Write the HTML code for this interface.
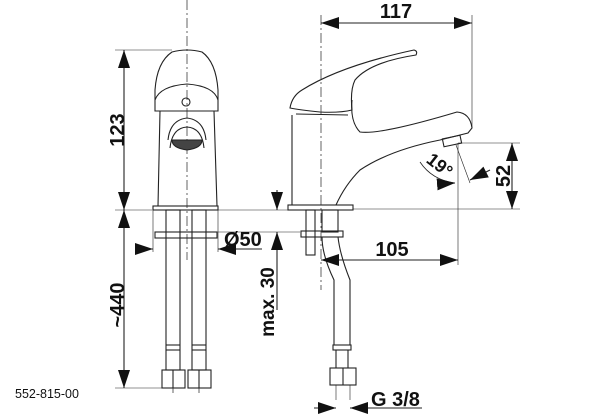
<!DOCTYPE html>
<html><head><meta charset="utf-8"><style>
html,body{margin:0;padding:0;background:#fff}
svg{display:block}
text{font-family:"Liberation Sans",Arial,sans-serif;font-weight:bold;fill:#111}
</style></head><body>
<svg width="614" height="415" viewBox="0 0 614 415" xmlns="http://www.w3.org/2000/svg">
<defs>
<marker id="a" viewBox="0 0 18 12" refX="18" refY="6" markerWidth="18" markerHeight="12" markerUnits="userSpaceOnUse" orient="auto"><path d="M0,0L18,6L0,12z" fill="#111"/></marker>
</defs>
<g fill="none" stroke="#222" stroke-width="1.1">
<!-- LEFT VIEW -->
<line x1="187" y1="0" x2="187" y2="260" stroke-dasharray="10,3,2,3" stroke-width="0.7"/>
<line x1="173" y1="380" x2="173" y2="395" stroke-dasharray="5,3" stroke-width="0.7"/>
<line x1="199" y1="380" x2="199" y2="395" stroke-dasharray="5,3" stroke-width="0.7"/>
<path d="M155,111 L155,90 Q157,62 172,52 Q187,48 202,52 Q216,62 218,90 L218,111 Z"/>
<path d="M155,100 Q160,86 187,84 Q214,86 218,100"/>
<circle cx="186" cy="102" r="4"/>
<path d="M160,111 L158,206 M214,111 L217,206"/>
<path d="M168,140 Q170,120 187,118 Q204,120 206,140"/>
<path d="M170,148 Q172,128 187,127 Q202,128 204,148"/>
<path d="M172,140 L202,140 Q202,148 187,150 Q172,148 172,140Z" fill="#444"/>
<rect x="153" y="206" width="65" height="4"/>
<rect x="166" y="210" width="14" height="160"/>
<rect x="192" y="210" width="14" height="160"/>
<rect x="155" y="232" width="62" height="6"/>
<line x1="166" y1="345" x2="180" y2="345"/><line x1="192" y1="345" x2="206" y2="345"/>
<line x1="166" y1="350" x2="180" y2="350"/><line x1="192" y1="350" x2="206" y2="350"/>
<rect x="162" y="370" width="23" height="18"/><rect x="188" y="370" width="23" height="18"/>
<line x1="173" y1="370" x2="173" y2="388"/><line x1="199" y1="370" x2="199" y2="388"/>
<line x1="115" y1="50" x2="172" y2="50" stroke-width="0.6"/>
<line x1="115" y1="210" x2="152" y2="210" stroke-width="0.6"/>
<line x1="115" y1="388" x2="162" y2="388" stroke-width="0.6"/>
<line x1="124" y1="75" x2="124" y2="50" marker-end="url(#a)"/>
<line x1="124" y1="180" x2="124" y2="210" marker-end="url(#a)"/>
<line x1="124" y1="240" x2="124" y2="210" marker-end="url(#a)"/>
<line x1="124" y1="360" x2="124" y2="388" marker-end="url(#a)"/>
<line x1="124" y1="75" x2="124" y2="180"/><line x1="124" y1="240" x2="124" y2="360"/>
<line x1="153" y1="206" x2="153" y2="252" stroke-width="0.6"/>
<line x1="218" y1="206" x2="218" y2="252" stroke-width="0.6"/>
<line x1="135" y1="249" x2="153" y2="249" marker-end="url(#a)"/>
<line x1="262" y1="249" x2="218" y2="249" marker-end="url(#a)"/>
<line x1="218" y1="210" x2="300" y2="210" stroke-width="0.6"/>
<line x1="218" y1="232" x2="300" y2="232" stroke-width="0.6"/>
<line x1="277" y1="190" x2="277" y2="210" marker-end="url(#a)"/>
<line x1="277" y1="310" x2="277" y2="232" marker-end="url(#a)"/>
<!-- RIGHT VIEW -->
<line x1="321" y1="15" x2="321" y2="290" stroke-dasharray="10,3,2,3" stroke-width="0.7"/>
<path d="M290,108 Q292,96 302,90 Q340,66 414,50 Q418,51 416,55 Q370,62 355,80 Q350,90 352,110 Q340,113 320,112 Q300,110 290,108Z"/>
<path d="M352,100 Q350,122 360,132 Q380,135 457,112 Q470,113 472,128 L468,133 L440,140 Q390,150 360,170 Q345,185 336,205"/>
<path d="M292,115 L292,205 M296,114 L348,115"/>
<rect x="443" y="137" width="18" height="8" transform="rotate(-12 452 141)"/>
<rect x="288" y="205" width="65" height="5"/>
<rect x="306" y="210" width="9" height="45"/>
<rect x="322" y="210" width="16" height="22"/>
<rect x="301" y="231" width="42" height="6"/>
<path d="M322,237 Q322,255 334,280 L334,345 M338,237 Q340,255 350,280 L350,345"/>
<rect x="333" y="345" width="18" height="5"/>
<path d="M336,350 L336,368 M348,350 L348,368"/>
<rect x="330" y="368" width="26" height="17"/>
<line x1="343" y1="368" x2="343" y2="385"/>
<line x1="336" y1="385" x2="336" y2="400" stroke-width="0.6"/><line x1="350" y1="385" x2="350" y2="400" stroke-width="0.6"/>
<line x1="472" y1="15" x2="472" y2="128" stroke-width="0.6"/>
<line x1="345" y1="23" x2="321" y2="23" marker-end="url(#a)"/>
<line x1="448" y1="23" x2="472" y2="23" marker-end="url(#a)"/>
<line x1="345" y1="23" x2="448" y2="23"/>
<line x1="458" y1="143" x2="520" y2="143" stroke-width="0.6"/>
<line x1="353" y1="209" x2="520" y2="209" stroke-width="0.6"/>
<line x1="512" y1="165" x2="512" y2="143" marker-end="url(#a)"/>
<line x1="512" y1="188" x2="512" y2="209" marker-end="url(#a)"/>
<line x1="512" y1="165" x2="512" y2="188"/>
<line x1="458" y1="143" x2="458" y2="265" stroke-width="0.6"/>
<line x1="456" y1="145" x2="470" y2="183" stroke-width="0.6"/>
<path d="M420,162 Q432,180 455,183" stroke-width="0.8"/>
<path d="M442,184 L455,183" marker-end="url(#a)"/>
<line x1="490" y1="170" x2="470" y2="180" marker-end="url(#a)"/>
<line x1="345" y1="260" x2="321" y2="260" marker-end="url(#a)"/>
<line x1="430" y1="260" x2="458" y2="260" marker-end="url(#a)"/>
<line x1="345" y1="260" x2="430" y2="260"/>
<line x1="314" y1="408" x2="336" y2="408" marker-end="url(#a)"/>
<line x1="422" y1="408" x2="350" y2="408" marker-end="url(#a)"/>
</g>
<text x="0" y="0" font-size="20" transform="translate(124,130) rotate(-90)" text-anchor="middle">123</text>
<text x="0" y="0" font-size="20" transform="translate(124,305) rotate(-90)" text-anchor="middle">~440</text>
<text x="224" y="246" font-size="20">Ø50</text>
<text x="0" y="0" font-size="19" transform="translate(274,302) rotate(-90)" text-anchor="middle">max. 30</text>
<text x="396" y="18" font-size="20" text-anchor="middle">117</text>
<text x="0" y="0" font-size="20" transform="translate(510,176) rotate(-90)" text-anchor="middle">52</text>
<text x="392" y="256" font-size="20" text-anchor="middle">105</text>
<text x="0" y="0" font-size="18" transform="translate(436,170) rotate(38)" text-anchor="middle">19°</text>
<text x="371" y="406" font-size="20">G 3/8</text>
<text x="15" y="398" font-size="12.5" style="font-weight:normal">552-815-00</text>
</svg>
</body></html>
